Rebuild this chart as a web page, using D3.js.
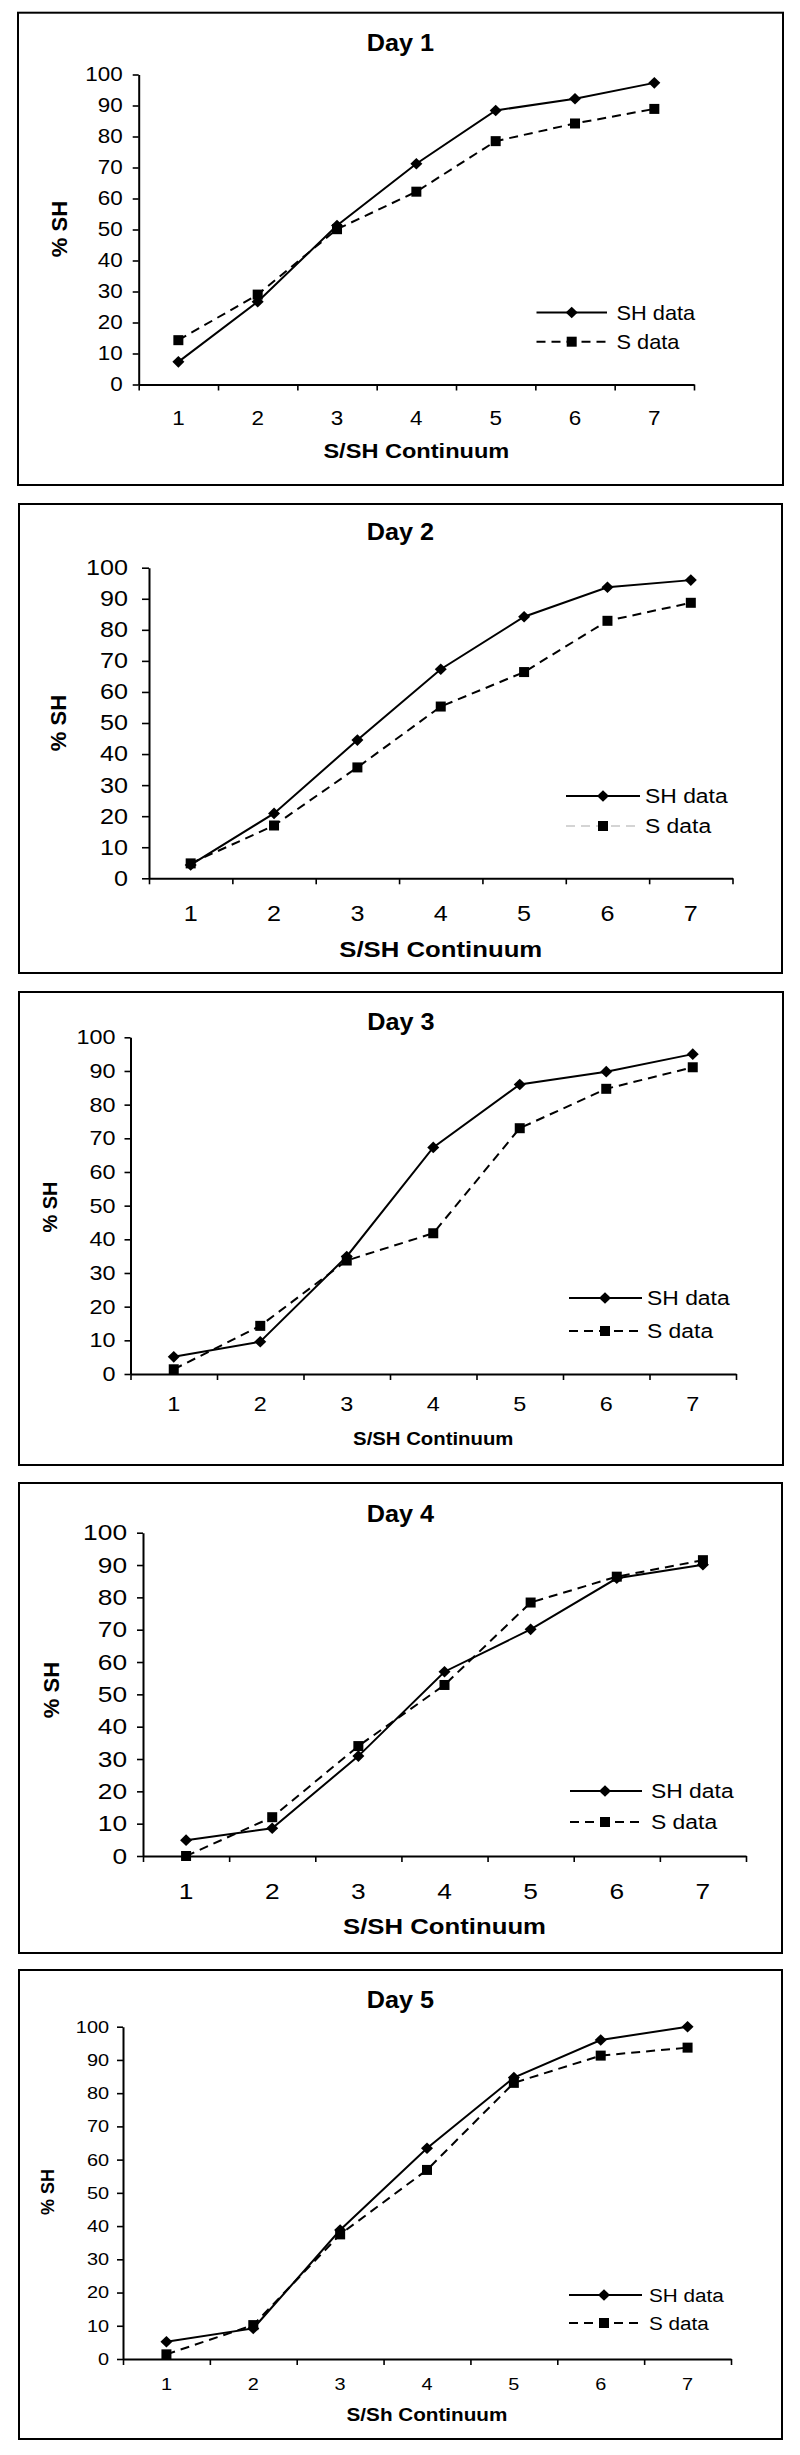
<!DOCTYPE html>
<html><head><meta charset="utf-8">
<script src="https://cdn.jsdelivr.net/npm/d3@7"></script>
<style>body{margin:0;background:#fff}svg{display:block}text{font-family:"Liberation Sans",Arial,sans-serif;fill:#000}</style>
</head><body>
<script>
// ---- data ----
const categories = ["1","2","3","4","5","6","7"];
const dayTitles = ["Day 1","Day 2","Day 3","Day 4","Day 5"];
const xTitles = ["S/SH Continuum","S/SH Continuum","S/SH Continuum","S/SH Continuum","S/Sh Continuum"];
const yTitle = "% SH";
const seriesNames = ["SH data","S data"];
const yTicks = [0,10,20,30,40,50,60,70,80,90,100];
const shDay1 = [7.3, 26.7, 51.3, 71.2, 88.4, 92.2, 97.3];
const sDay1  = [14.3, 29.0, 50.1, 62.2, 78.5, 84.2, 88.9];
const shDay2 = [4.3, 20.9, 44.5, 67.3, 84.2, 93.7, 96.0];
const sDay2  = [4.8, 17.0, 35.7, 55.3, 66.4, 82.9, 88.7];
const shDay3 = [5.1, 9.6, 34.9, 67.3, 86.0, 89.8, 95.0];
const sDay3  = [1.4, 14.3, 33.7, 41.8, 73.0, 84.7, 91.1];
const shDay4 = [4.9, 8.6, 30.9, 57.0, 70.1, 85.9, 90.1];
const sDay4  = [0.0, 12.0, 34.0, 52.9, 78.4, 86.4, 91.5];
const shDay5 = [5.2, 9.2, 38.8, 63.4, 84.7, 96.0, 100.0];
const sDay5  = [1.4, 10.2, 37.5, 56.9, 83.1, 91.3, 93.7];
const shSeries = [shDay1, shDay2, shDay3, shDay4, shDay5];
const sSeries = [sDay1, sDay2, sDay3, sDay4, sDay5];

// ---- layout (positions & styles) ----
const layout = [
 {box:[18,12.7,783,485], ax:138.7, axR:694, y100:74.5, y0:384.5, titleY:51, tick:19.5, tsx:1.15, ytSize:6, ytPad:10, xlabC:417.7,
  xt:20.5, xtsx:1.15, xtY:458, ytX:59, ytY:229, yt:22, leg:[536.5,607,571.7,616.5,312.5,341.7], lf:20, legLight:false},
 {box:[19,504,782,973], ax:149, axR:732.5, y100:567.7, y0:878.3, titleY:540, tick:21.5, tsx:1.17, ytSize:7, ytPad:14, xlabC:913,
  xt:22, xtsx:1.17, xtY:957, ytX:58, ytY:723, yt:22, leg:[566,640,603,645,796,826], lf:21, legLight:true},
 {box:[19,992,783,1465], ax:130.5, axR:736, y100:1037.3, y0:1374, titleY:1030, tick:20, tsx:1.17, ytSize:6, ytPad:9, xlabC:1404,
  xt:18, xtsx:1.13, xtY:1445, ytX:50, ytY:1207, yt:20, leg:[569,642,605,647,1298,1331], lf:21, legLight:false},
 {box:[19,1483,782,1953], ax:143, axR:746, y100:1532.7, y0:1856, titleY:1522, tick:22.5, tsx:1.17, ytSize:6, ytPad:10, xlabC:1891,
  xt:22, xtsx:1.17, xtY:1934, ytX:51, ytY:1690, yt:22, leg:[570,642,605,651,1791,1822], lf:21, legLight:false},
 {box:[19,1970,782,2439], ax:123, axR:731, y100:2026.7, y0:2359, titleY:2008, tick:17, tsx:1.17, ytSize:6, ytPad:8, xlabC:2384,
  xt:18, xtsx:1.15, xtY:2421, ytX:48, ytY:2192, yt:18, leg:[569,642,604,649,2295,2323], lf:19, legLight:false}
];

const W = 800, H = 2455;
const svg = d3.select("body").append("svg").attr("width", W).attr("height", H);
svg.append("rect").attr("width", W).attr("height", H).attr("fill", "#fff");

// horizontally stretch text while keeping its anchor point
function stretch(sel, sx) {
  sel.each(function() {
    const t = d3.select(this);
    const x = +(t.attr("x") || 0);
    t.attr("x", x / sx).attr("transform", `scale(${sx},1)`);
  });
}

function drawMarker(g, kind, x, y) {
  if (kind === "d") {
    g.append("path").attr("d", `M${x},${y - 5.8}L${x + 6},${y}L${x},${y + 5.8}L${x - 6},${y}Z`).attr("fill", "#000");
  } else {
    g.append("rect").attr("x", x - 5).attr("y", y - 5).attr("width", 10).attr("height", 10).attr("fill", "#000");
  }
}

layout.forEach((L, i) => {
  const g = svg.append("g");
  const [bx0, by0, bx1, by1] = L.box;
  g.append("rect").attr("x", bx0).attr("y", by0).attr("width", bx1 - bx0).attr("height", by1 - by0)
    .attr("fill", "none").attr("stroke", "#000").attr("stroke-width", 2);

  const title = g.append("text").attr("x", (bx0 + bx1) / 2).attr("y", L.titleY).attr("text-anchor", "middle")
    .attr("font-weight", "bold").attr("font-size", 24.5).text(dayTitles[i]);
  stretch(title, 1.03);

  const y = d3.scaleLinear().domain([0, 100]).range([L.y0, L.y100]);
  const xb = d3.scaleBand().domain(categories).range([L.ax, L.axR]);
  const xc = c => xb(c) + xb.bandwidth() / 2;
  const xl = d3.scaleLinear().domain([0, categories.length]).range([L.ax, L.axR]);

  // y axis
  const ya = g.append("g").attr("transform", `translate(${L.ax},0)`)
    .call(d3.axisLeft(y).tickValues(yTicks).tickSize(L.ytSize).tickSizeOuter(0).tickPadding(L.ytPad));
  ya.select(".domain").attr("stroke-width", 2);
  ya.selectAll(".tick line").attr("stroke-width", 1.6);
  ya.selectAll("text").attr("font-size", L.tick).attr("font-family", '"Liberation Sans",Arial,sans-serif');
  stretch(ya.selectAll("text"), L.tsx);

  // x axis: tick marks between categories
  const xa = g.append("g").attr("transform", `translate(0,${L.y0})`)
    .call(d3.axisBottom(xl).tickValues(d3.range(categories.length + 1)).tickSize(6).tickSizeOuter(0).tickFormat(""));
  xa.select(".domain").attr("stroke-width", 2);
  xa.selectAll(".tick line").attr("stroke-width", 1.6);
  // category labels
  const xlab = g.append("g").attr("transform", `translate(0,${L.y0})`)
    .call(d3.axisBottom(xb).tickSize(0).tickPadding(L.xlabC - L.y0 - 0.358 * L.tick));
  xlab.select(".domain").remove();
  xlab.selectAll("text").attr("font-size", L.tick).attr("font-family", '"Liberation Sans",Arial,sans-serif');
  stretch(xlab.selectAll("text"), L.tsx);

  // axis titles
  const xtt = g.append("text").attr("x", (L.ax + L.axR) / 2).attr("y", L.xtY).attr("text-anchor", "middle")
    .attr("font-weight", "bold").attr("font-size", L.xt).text(xTitles[i]);
  stretch(xtt, L.xtsx);
  g.append("text").attr("transform", `translate(${L.ytX},${L.ytY}) rotate(-90)`).attr("text-anchor", "middle")
    .attr("dominant-baseline", "central").attr("font-weight", "bold").attr("font-size", L.yt).text(yTitle);

  // lines
  const line = d3.line().x((d, k) => xc(categories[k])).y(d => y(d));
  g.append("path").datum(sSeries[i]).attr("d", line).attr("fill", "none").attr("stroke", "#000")
    .attr("stroke-width", 2).attr("stroke-dasharray", "9,6");
  g.append("path").datum(shSeries[i]).attr("d", line).attr("fill", "none").attr("stroke", "#000")
    .attr("stroke-width", 2);
  sSeries[i].forEach((v, k) => drawMarker(g, "s", xc(categories[k]), y(v)));
  shSeries[i].forEach((v, k) => drawMarker(g, "d", xc(categories[k]), y(v)));

  // legend
  const [lx0, lx1, lm, tx, r1, r2] = L.leg;
  g.append("line").attr("x1", lx0).attr("x2", lx1).attr("y1", r1).attr("y2", r1).attr("stroke", "#000").attr("stroke-width", 2);
  drawMarker(g, "d", lm, r1);
  const t1 = g.append("text").attr("x", tx).attr("y", r1).attr("dominant-baseline", "central").attr("font-size", L.lf).text(seriesNames[0]);
  stretch(t1, 1.09);
  g.append("line").attr("x1", lx0).attr("x2", lx1).attr("y1", r2).attr("y2", r2)
    .attr("stroke", L.legLight ? "#aaa" : "#000").attr("stroke-width", L.legLight ? 1.2 : 2).attr("stroke-dasharray", "9,6");
  drawMarker(g, "s", lm, r2);
  const t2 = g.append("text").attr("x", tx).attr("y", r2).attr("dominant-baseline", "central").attr("font-size", L.lf).text(seriesNames[1]);
  stretch(t2, 1.09);
});
</script>
</body></html>
